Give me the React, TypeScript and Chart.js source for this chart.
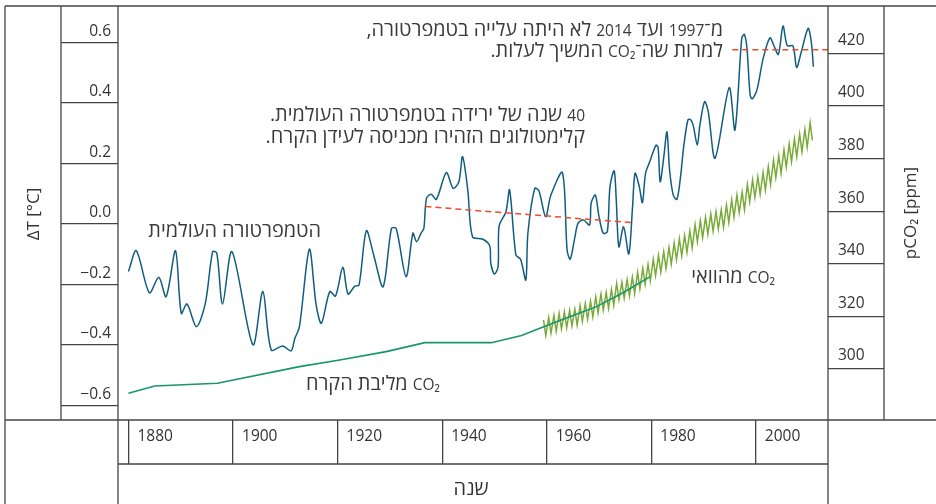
import React, { useEffect, useRef } from 'react';
import { Chart, registerables } from 'chart.js';

Chart.register(...registerables);

// ---- tick values ----
const YEAR_TICKS = [1880, 1900, 1920, 1940, 1960, 1980, 2000];
const TEMP_TICKS = [0.6, 0.4, 0.2, 0.0, -0.2, -0.4, -0.6];
const CO2_TICKS = [420, 400, 380, 360, 340, 320, 300];

// ---- global temperature anomaly (°C) ----
const TEMP_YEARS = [
  1880.0, 1881.5, 1884.0, 1885.8, 1887.2, 1889.0, 1890.1, 1891.2, 1893.0, 1894.7,
  1896.1, 1896.9, 1898.0, 1899.8, 1903.8, 1905.7, 1907.3, 1909.5, 1911.1, 1911.8,
  1912.7, 1914.6, 1915.9, 1916.9, 1918.5, 1919.6, 1921.0, 1922.0, 1923.3, 1924.1,
  1925.5, 1926.9, 1928.7, 1930.3, 1931.2, 1933.1, 1934.4, 1935.1, 1936.0, 1936.5,
  1937.0, 1937.9, 1938.9, 1940.8, 1942.1, 1943.2, 1943.9, 1944.9, 1945.8, 1947.8,
  1949.1, 1949.3, 1950.0, 1950.7, 1950.9, 1952.2, 1952.9, 1954.1, 1955.0, 1956.0,
  1956.4, 1957.7, 1958.5, 1959.8, 1960.8, 1963.0, 1963.9, 1964.5, 1965.4, 1966.0,
  1967.0, 1968.2, 1968.5, 1969.3, 1970.0, 1970.8, 1971.6, 1972.1, 1972.9, 1973.3,
  1973.8, 1974.7, 1975.7, 1976.4, 1976.9, 1977.7, 1978.3, 1978.9, 1979.7, 1980.9,
  1981.3, 1981.7, 1982.4, 1983.0, 1983.5, 1984.2, 1984.9, 1985.6, 1986.2, 1987.0,
  1987.5, 1988.0, 1988.8, 1989.3, 1990.2, 1990.9, 1992.2, 1994.9, 1996.0, 1997.3,
  1997.8, 1998.3, 1998.9, 1999.3, 2000.2, 2001.4, 2002.7, 2003.4, 2004.3, 2005.2,
  2006.0, 2007.1, 2007.8, 2008.7, 2010.0, 2010.6, 2011.0,
];
const TEMP_VALUES = [
  -0.158, -0.089, -0.228, -0.177, -0.241, -0.089, -0.296, -0.265, -0.340, -0.263,
  -0.092, -0.097, -0.265, -0.092, -0.400, -0.224, -0.417, -0.404, -0.420, -0.380,
  -0.340, -0.084, -0.268, -0.329, -0.224, -0.239, -0.144, -0.232, -0.206, -0.203,
  -0.023, -0.103, -0.208, -0.015, -0.015, -0.175, -0.031, -0.059, -0.030, -0.015,
  0.084, 0.098, 0.081, 0.169, 0.117, 0.139, 0.222, 0.112, -0.043, -0.051,
  -0.073, -0.131, -0.166, -0.142, -0.007, 0.040, 0.112, -0.103, -0.117, -0.186,
  -0.031, 0.117, 0.109, 0.023, 0.095, 0.169, -0.087, -0.117, -0.043, 0.002,
  0.013, -0.004, 0.068, 0.095, 0.024, -0.031, -0.026, 0.123, 0.175, 0.079,
  -0.076, -0.010, -0.100, 0.051, 0.167, 0.123, 0.070, 0.167, 0.205, 0.260,
  0.253, 0.139, 0.222, 0.304, 0.178, 0.095, 0.081, 0.156, 0.255, 0.343,
  0.345, 0.327, 0.260, 0.327, 0.404, 0.370, 0.217, 0.450, 0.310, 0.613,
  0.626, 0.580, 0.426, 0.413, 0.442, 0.547, 0.615, 0.591, 0.560, 0.654,
  0.589, 0.588, 0.517, 0.569, 0.646, 0.602, 0.519,
];

// ---- trend lines (red dashed) ----
const COOLING_YEARS = [1936.8, 1976.2];
const COOLING_VALUES = [0.057, 0.004];
const PAUSE_YEARS = [1995.5, 2013.8];
const PAUSE_VALUES = [0.575, 0.575];

// ---- CO2 from ice core (ppm) ----
const ICE_YEARS = [1880, 1885, 1897, 1912.7, 1920.4, 1929.3, 1936.7, 1949.4, 1955.2, 1959.3, 1964.4, 1969.5, 1974.6, 1979.7];
const ICE_PPM = [290.8, 293.5, 294.6, 300.9, 303.4, 306.6, 310.0, 310.0, 312.7, 316.0, 319.9, 323.7, 329.0, 335.0];

// ---- CO2 at Mauna Loa (ppm): yearly seasonal maximum and minimum ----
const ML_YEARS = [
  1959, 1960, 1961, 1962, 1963, 1964, 1965, 1966, 1967, 1968, 1969, 1970, 1971,
  1972, 1973, 1974, 1975, 1976, 1977, 1978, 1979, 1980, 1981, 1982, 1983, 1984,
  1985, 1986, 1987, 1988, 1989, 1990, 1991, 1992, 1993, 1994, 1995, 1996, 1997,
  1998, 1999, 2000, 2001, 2002, 2003, 2004, 2005, 2006, 2007, 2008, 2009, 2010,
];
const ML_PEAK = [
  318.7, 319.6, 320.4, 321.1, 321.7, 322.3, 322.7, 324.1, 324.9, 325.8, 327.4, 328.5, 329.1,
  330.3, 332.5, 333.0, 334.0, 334.9, 336.8, 338.3, 339.8, 341.7, 343.2, 344.6, 346.2, 347.9,
  349.5, 350.8, 352.5, 354.9, 356.4, 357.7, 359.0, 359.8, 360.5, 362.3, 364.3, 366.1, 367.3,
  370.2, 371.9, 373.1, 374.7, 376.9, 379.4, 381.1, 383.4, 385.5, 387.5, 389.3, 391.1, 393.6,
];
const ML_TROUGH = [
  312.7, 313.6, 314.3, 315.2, 315.7, 316.3, 316.7, 318.1, 318.9, 319.8, 321.3, 322.4, 323.0,
  324.2, 326.4, 326.9, 327.8, 328.7, 330.5, 332.1, 333.5, 335.5, 336.8, 338.2, 339.9, 341.6,
  343.0, 344.3, 346.0, 348.4, 349.9, 351.2, 352.4, 353.2, 353.9, 355.7, 357.7, 359.4, 360.6,
  363.5, 365.2, 366.4, 368.0, 370.1, 372.7, 374.4, 376.7, 378.8, 380.7, 382.5, 384.3, 386.9,
];

// ---- texts ----
const TITLE_LEFT = 'ΔT [°C]';
const TITLE_RIGHT = 'pCO₂ [ppm]';
const TITLE_BOTTOM = 'שנה';
const NOTE_PAUSE = ['מ־1997 ועד 2014 לא היתה עלייה בטמפרטורה,', 'למרות שה־CO₂ המשיך לעלות.'];
const NOTE_COOLING = ['40 שנה של ירידה בטמפרטורה העולמית.', 'קלימטולוגים הזהירו מכניסה לעידן הקרח.'];
const NOTE_TEMP = 'הטמפרטורה העולמית';
const NOTE_ML = 'CO₂ מהוואי';
const NOTE_ICE = 'CO₂ מליבת הקרח';

const FONT_FAMILY = '"Open Sans", "Noto Sans", "DejaVu Sans", sans-serif';
const FRAME = '#444444';
const TEXT = '#333333';
const NOTE_COLOR = '#3a3a3a';
const HEB_SIZE = 19.9;
const LAT_SIZE = 15.5;

function zip(xs: number[], ys: number[]) {
  return xs.map((x, i) => ({ x, y: ys[i] }));
}

function mlPoints() {
  const pts: { x: number; y: number }[] = [];
  ML_YEARS.forEach((yr, i) => {
    pts.push({ x: yr + 0.38, y: ML_PEAK[i] });
    pts.push({ x: yr + 0.82, y: ML_TROUGH[i] });
  });
  return pts;
}

const fmtTemp = (v: number) => {
  const s = Math.abs(v) < 1e-9 ? '0.0' : v.toFixed(1);
  return s.replace('-', '−');
};

// Draws a right-to-left line whose Hebrew runs and Latin/digit runs use different sizes.
function drawRtl(ctx: any, text: string, xRight: number, baseline: number) {
  const runs = text.match(/[A-Za-z0-9₂]+|[^A-Za-z0-9₂]+/g) || [];
  let x = xRight;
  ctx.textBaseline = 'alphabetic';
  ctx.textAlign = 'right';
  for (const run of runs) {
    const latin = /[A-Za-z0-9]/.test(run[0]);
    ctx.font = `${latin ? LAT_SIZE : HEB_SIZE}px ${FONT_FAMILY}`;
    ctx.direction = latin ? 'ltr' : 'rtl';
    ctx.fillText(run, x, baseline);
    x -= ctx.measureText(run).width;
  }
  ctx.direction = 'ltr';
}

const framePlugin = {
  id: 'framePlugin',
  afterDraw(chart: any) {
    const { ctx, chartArea } = chart;
    const yL = chart.scales.y;
    const yR = chart.scales.y2;
    const xS = chart.scales.x;
    const W = chart.width;
    const H = chart.height;
    const L = chartArea.left;
    const R = chartArea.right;
    const T = chartArea.top;
    const B = chartArea.bottom;
    const outerL = yL.left - 56;
    ctx.save();
    ctx.strokeStyle = FRAME;
    ctx.lineWidth = 1.3;
    const line = (x1: number, y1: number, x2: number, y2: number) => {
      ctx.beginPath();
      ctx.moveTo(x1, y1);
      ctx.lineTo(x2, y2);
      ctx.stroke();
    };
    line(outerL, T, W, T);
    line(outerL, B, W, B);
    line(L, xS.bottom, R, xS.bottom);
    line(outerL, T, outerL, H);
    line(yL.left, T, yL.left, B);
    line(L, T, L, H);
    line(R, T, R, H);
    line(yR.right, T, yR.right, B);

    // axis titles
    ctx.fillStyle = TEXT;
    ctx.font = `17px ${FONT_FAMILY}`;
    ctx.textAlign = 'center';
    ctx.textBaseline = 'middle';
    ctx.save();
    ctx.translate((outerL + yL.left) / 2 + 1, (T + B) / 2 + 1);
    ctx.rotate(-Math.PI / 2);
    ctx.fillText(TITLE_LEFT, 0, 0);
    ctx.restore();
    ctx.save();
    ctx.translate((yR.right + W) / 2 + 1, (T + B) / 2);
    ctx.rotate(-Math.PI / 2);
    ctx.fillText(TITLE_RIGHT, 0, 0);
    ctx.restore();
    ctx.font = `${HEB_SIZE}px ${FONT_FAMILY}`;
    ctx.textBaseline = 'alphabetic';
    ctx.direction = 'rtl';
    ctx.fillText(TITLE_BOTTOM, (L + R) / 2 - 2, 495);
    ctx.direction = 'ltr';

    // annotations
    ctx.fillStyle = NOTE_COLOR;
    drawRtl(ctx, NOTE_PAUSE[0], 723, 35.5);
    drawRtl(ctx, NOTE_PAUSE[1], 723, 57);
    drawRtl(ctx, NOTE_COOLING[0], 585, 120.5);
    drawRtl(ctx, NOTE_COOLING[1], 585, 142.5);
    drawRtl(ctx, NOTE_TEMP, 321, 237);
    drawRtl(ctx, NOTE_ML, 775, 283);
    drawRtl(ctx, NOTE_ICE, 440, 390);
    ctx.restore();
  },
};

export default function App() {
  const ref = useRef<HTMLCanvasElement | null>(null);

  useEffect(() => {
    if (!ref.current) return;
    const tickFont = { family: FONT_FAMILY, size: 15.5 };
    const chart = new Chart(ref.current, {
      type: 'line',
      data: {
        datasets: [
          {
            label: 'trend1',
            data: zip(COOLING_YEARS, COOLING_VALUES),
            yAxisID: 'y',
            borderColor: '#f04a2c',
            borderWidth: 1.5,
            borderDash: [6, 4],
            pointRadius: 0,
            tension: 0,
            order: 0,
          },
          {
            label: 'trend2',
            data: zip(PAUSE_YEARS, PAUSE_VALUES),
            yAxisID: 'y',
            borderColor: '#f04a2c',
            borderWidth: 1.5,
            borderDash: [6, 4],
            pointRadius: 0,
            tension: 0,
            order: 0,
          },
          {
            label: 'temperature',
            data: zip(TEMP_YEARS, TEMP_VALUES),
            yAxisID: 'y',
            borderColor: '#115d80',
            borderWidth: 1.5,
            pointRadius: 0,
            tension: 0.3,
            order: 1,
          },
          {
            label: 'ice',
            data: zip(ICE_YEARS, ICE_PPM),
            yAxisID: 'y2',
            borderColor: '#16966f',
            borderWidth: 1.6,
            pointRadius: 0,
            tension: 0,
            order: 2,
          },
          {
            label: 'maunaloa',
            data: mlPoints(),
            yAxisID: 'y2',
            borderColor: '#78aa36',
            borderWidth: 1.5,
            pointRadius: 0,
            tension: 0,
            order: 3,
          },
        ],
      },
      options: {
        animation: false,
        responsive: false,
        maintainAspectRatio: false,
        devicePixelRatio: 1,
        events: [],
        layout: { padding: { left: 61, right: 52, top: 6, bottom: 40 }, autoPadding: false },
        plugins: { legend: { display: false }, tooltip: { enabled: false }, title: { display: false } },
        scales: {
          x: {
            type: 'linear',
            position: 'bottom',
            min: 1878,
            max: 2013.8,
            afterBuildTicks: (s: any) => {
              s.ticks = YEAR_TICKS.map((v) => ({ value: v }));
            },
            afterFit: (s: any) => {
              s.height = 44;
            },
            grid: { drawOnChartArea: false, drawTicks: true, tickLength: 44, color: FRAME, lineWidth: 1.3 },
            border: { display: false },
            ticks: {
              align: 'start',
              labelOffset: 9,
              padding: -36.5,
              maxRotation: 0,
              minRotation: 0,
              autoSkip: false,
              font: tickFont,
              color: TEXT,
              callback: (v: any) => String(v),
            },
          },
          y: {
            type: 'linear',
            position: 'left',
            min: -0.6486,
            max: 0.72,
            afterBuildTicks: (s: any) => {
              s.ticks = TEMP_TICKS.map((v) => ({ value: v }));
            },
            afterFit: (s: any) => {
              s.width = 57;
            },
            grid: { drawOnChartArea: false, drawTicks: true, tickLength: 57, color: FRAME, lineWidth: 1.3 },
            border: { display: false },
            ticks: {
              crossAlign: 'near',
              padding: -50,
              labelOffset: -11,
              font: tickFont,
              color: TEXT,
              callback: (v: any) => fmtTemp(Number(v)),
            },
          },
          y2: {
            type: 'linear',
            position: 'right',
            min: 280.6,
            max: 438,
            afterBuildTicks: (s: any) => {
              s.ticks = CO2_TICKS.map((v) => ({ value: v }));
            },
            afterFit: (s: any) => {
              s.width = 56;
            },
            grid: { drawOnChartArea: false, drawTicks: true, tickLength: 56, color: FRAME, lineWidth: 1.3 },
            border: { display: false },
            ticks: {
              crossAlign: 'near',
              padding: -46,
              labelOffset: -13,
              font: tickFont,
              color: TEXT,
              callback: (v: any) => String(v),
            },
          },
        },
      } as any,
      plugins: [framePlugin],
    });
    return () => chart.destroy();
  }, []);

  return (
    <div style={{ position: 'fixed', left: 0, top: 0, width: 936, height: 504, background: '#fff' }}>
      <canvas ref={ref} width={936} height={504} style={{ display: 'block' }} />
    </div>
  );
}
